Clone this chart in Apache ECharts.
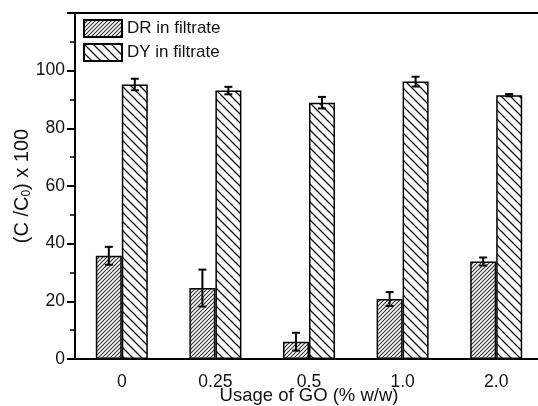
<!DOCTYPE html>
<html>
<head>
<meta charset="utf-8">
<script src="https://cdn.jsdelivr.net/npm/echarts@6/dist/echarts.min.js"></script>
<style>
  html, body { margin: 0; padding: 0; background: #fff; }
  #chart { width: 538px; height: 406px; }
</style>
</head>
<body>
<div id="chart"></div>
<script>
// GO usage levels
const categories = ['0', '0.25', '0.5', '1.0', '2.0'];
// DR in filtrate
const drValues = [35.8, 24.6, 6.0, 20.8, 33.8];
const drErrors = [3.1, 6.4, 3.1, 2.4, 1.4];
// DY in filtrate
const dyValues = [95.2, 93.1, 88.9, 96.2, 91.5];
const dyErrors = [2.0, 1.3, 2.0, 1.7, 0.4];
const yTicks = [0, 20, 40, 60, 80, 100];

// hatch pattern tiles
function hatch(size, dir, lw, color) {
  const c = document.createElement('canvas');
  c.width = size; c.height = size;
  const ctx = c.getContext('2d');
  ctx.fillStyle = '#fff';
  ctx.fillRect(0, 0, size, size);
  ctx.strokeStyle = color;
  ctx.lineWidth = lw;
  ctx.beginPath();
  if (dir === '/') {
    ctx.moveTo(0, size); ctx.lineTo(size, 0);
    ctx.moveTo(-1, 1); ctx.lineTo(1, -1);
    ctx.moveTo(size - 1, size + 1); ctx.lineTo(size + 1, size - 1);
  } else {
    ctx.moveTo(0, 0); ctx.lineTo(size, size);
    ctx.moveTo(size - 1, -1); ctx.lineTo(size + 1, 1);
    ctx.moveTo(-1, size - 1); ctx.lineTo(1, size + 1);
  }
  ctx.stroke();
  return { image: c, repeat: 'repeat' };
}

const drFill = hatch(4, '/', 1.1, '#333');
const dyFill = hatch(9, '\\', 1.3, '#111');

const BAR_W = 26;

function errorSeries(name, values, errs, offset) {
  return {
    type: 'custom',
    name: name + ' err',
    z: 5,
    data: values.map((v, i) => [i, v - errs[i], v + errs[i]]),
    renderItem: function (params, api) {
      const lo = api.coord([api.value(0), api.value(1)]);
      const hi = api.coord([api.value(0), api.value(2)]);
      const x = lo[0] + offset;
      const cap = 4;
      const st = { stroke: '#000', lineWidth: 2 };
      return {
        type: 'group',
        children: [
          { type: 'line', shape: { x1: x, y1: lo[1], x2: x, y2: hi[1] }, style: st },
          { type: 'line', shape: { x1: x - cap, y1: lo[1], x2: x + cap, y2: lo[1] }, style: st },
          { type: 'line', shape: { x1: x - cap, y1: hi[1], x2: x + cap, y2: hi[1] }, style: st }
        ]
      };
    }
  };
}

const chart = echarts.init(document.getElementById('chart'));
chart.setOption({
  animation: false,
  textStyle: { fontFamily: 'Liberation Sans, Arial, sans-serif' },
  grid: {
    left: 75, top: 13, right: -5, bottom: 47,
    outerBoundsMode: 'none',
    show: true, borderColor: '#000', borderWidth: 2
  },
  legend: {
    data: ['DR in filtrate', 'DY in filtrate'],
    orient: 'vertical',
    left: 78, top: 14,
    icon: 'rect',
    itemWidth: 38, itemHeight: 17, itemGap: 5,
    textStyle: { fontSize: 17, color: '#111' }
  },
  xAxis: {
    type: 'category',
    data: categories,
    name: 'Usage of GO (% w/w)',
    nameLocation: 'middle',
    nameGap: 27,
    nameMoveOverlap: false,
    nameTextStyle: { fontSize: 18.5, color: '#111' },
    axisLine: { lineStyle: { color: '#000', width: 2 } },
    axisTick: { alignWithLabel: true, length: 7, lineStyle: { width: 2 } },
    axisLabel: { fontSize: 17.5, color: '#111', margin: 14 }
  },
  yAxis: {
    type: 'value',
    min: 0, max: 120, interval: 20,
    name: '(C /C{sub|0}) x 100',
    nameLocation: 'middle',
    nameGap: 42,
    nameMoveOverlap: false,
    nameTextStyle: {
      fontSize: 20, color: '#111',
      rich: { sub: { fontSize: 12, verticalAlign: 'bottom', padding: [10, 0, 0, 0] } }
    },
    axisLine: { show: true, lineStyle: { color: '#000', width: 2 } },
    axisTick: { show: true, length: 8, lineStyle: { width: 2 } },
    minorTick: { show: true, splitNumber: 2, length: 5, lineStyle: { color: '#000', width: 1.5 } },
    splitLine: { show: false },
    axisLabel: {
      fontSize: 17.5, color: '#111', margin: 10,
      formatter: v => (yTicks.indexOf(v) >= 0 ? String(v) : '')
    }
  },
  series: [
    {
      type: 'bar', name: 'DR in filtrate', data: drValues,
      barWidth: BAR_W, barGap: '0%',
      itemStyle: { color: drFill, borderColor: '#000', borderWidth: 1.5 }
    },
    {
      type: 'bar', name: 'DY in filtrate', data: dyValues,
      barWidth: BAR_W, barGap: '0%',
      itemStyle: { color: dyFill, borderColor: '#000', borderWidth: 1.5 }
    },
    errorSeries('DR', drValues, drErrors, -BAR_W / 2),
    errorSeries('DY', dyValues, dyErrors, BAR_W / 2)
  ]
});
</script>
</body>
</html>
